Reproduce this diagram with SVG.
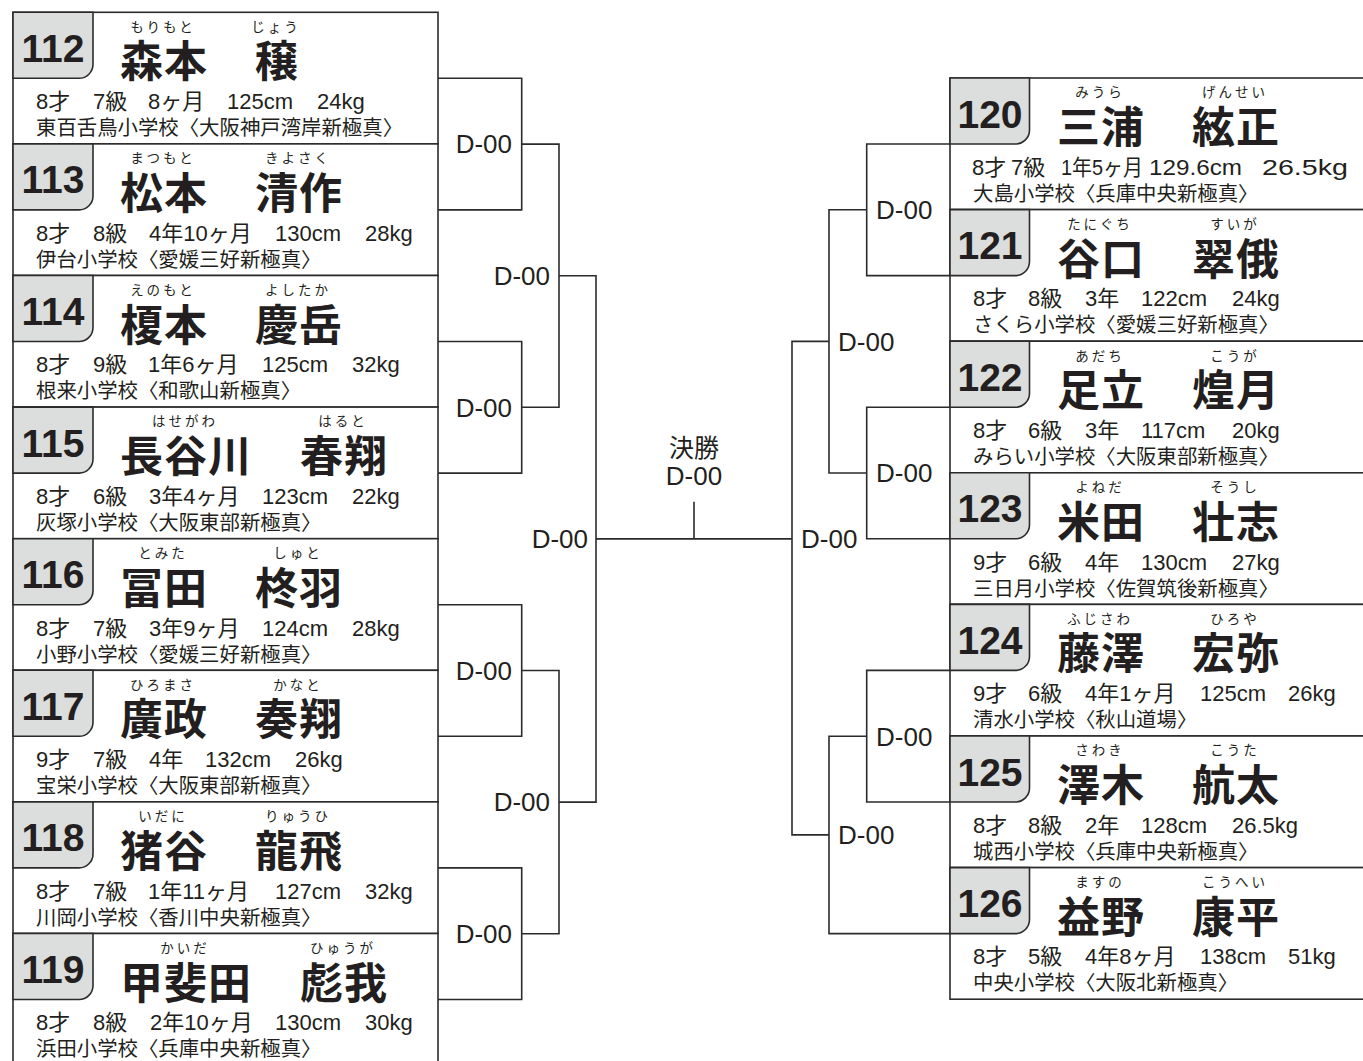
<svg xmlns="http://www.w3.org/2000/svg" width="1363" height="1061" viewBox="0 0 1363 1061">
<style>
.bg{fill:#fff}
.card{fill:#fff;stroke:#2b2b2b;stroke-width:1.6}
.tab{fill:#dcdddd;stroke:#2b2b2b;stroke-width:1.6}
.num{font-family:"Liberation Sans",Arial,sans-serif;font-weight:bold;font-size:39px;fill:#231f20;text-anchor:middle}
.name{font-family:"Noto Sans CJK JP",sans-serif;font-weight:bold;font-size:43px;letter-spacing:1px;fill:#231f20}
.kana{font-family:"Noto Sans CJK JP",sans-serif;font-size:13.5px;letter-spacing:3px;fill:#231f20;text-anchor:middle}
.info{font-family:"Liberation Sans","Noto Sans CJK JP",sans-serif;font-size:22px;fill:#231f20}
.club{font-family:"Noto Sans CJK JP",sans-serif;font-size:20.4px;fill:#231f20}
.wire{fill:none;stroke:#2b2b2b;stroke-width:1.6}
.lbl{font-family:"Liberation Sans",Arial,sans-serif;font-size:26px;fill:#231f20}
.end{text-anchor:end}
.fin{font-family:"Noto Sans CJK JP",sans-serif;font-size:25px;fill:#231f20;text-anchor:middle}
</style>
<rect class="bg" x="0" y="0" width="1363" height="1061"/>
<g id="connectors">
<path class="wire" d="M438,78.3H521.7V209.9H438M438,341.5H521.7V473.1H438M438,604.7H521.7V736.3H438M438,867.9H521.7V999.5H438"/>
<path class="wire" d="M521.7,144.1H559V407.3H521.7M521.7,670.5H559V933.7H521.7"/>
<path class="wire" d="M559,275.7H596V802.1H559"/>
<path class="wire" d="M596,538.9H792M694,501.7V538.9"/>
<path class="wire" d="M950,144H866.7V275.6H950M950,407.2H866.7V538.8H950M950,670.4H866.7V802H950"/>
<path class="wire" d="M866.7,209.8H829V473H866.7M866.7,736.2H829V933.6H950"/>
<path class="wire" d="M829,341.4H792V834.9H829"/>
<text class="lbl end" x="512" y="153.4">D-00</text>
<text class="lbl end" x="512" y="416.6">D-00</text>
<text class="lbl end" x="512" y="679.8">D-00</text>
<text class="lbl end" x="512" y="943">D-00</text>
<text class="lbl end" x="550" y="285">D-00</text>
<text class="lbl end" x="550" y="811.4">D-00</text>
<text class="lbl end" x="588" y="548.2">D-00</text>
<text class="fin" x="694" y="457">決勝</text>
<text class="lbl" x="694" y="485" text-anchor="middle">D-00</text>
<text class="lbl" x="876" y="219.1">D-00</text>
<text class="lbl" x="876" y="482.3">D-00</text>
<text class="lbl" x="876" y="745.5">D-00</text>
<text class="lbl" x="838" y="350.7">D-00</text>
<text class="lbl" x="838" y="844.2">D-00</text>
<text class="lbl" x="801" y="548.2">D-00</text>
</g>

<g id="p112">
<rect class="card" x="13" y="12.3" width="425" height="131.6"/>
<path class="tab" d="M13,12.3H93V64.3A14,14 0 0 1 79,78.3H13Z"/>
<text class="num" x="53" y="61.8">112</text>
<text class="kana" x="163" y="31.6">もりもと</text>
<text class="kana" x="276" y="31.6">じょう</text>
<text class="name" x="120" y="77.3">森本</text>
<text class="name" x="255" y="77.3">穣</text>
<text class="info" y="109.1"><tspan x="36">8才</tspan><tspan x="93">7級</tspan><tspan x="148">8ヶ月</tspan><tspan x="227">125cm</tspan><tspan x="317">24kg</tspan></text>
<text class="club" x="36" y="135.1">東百舌鳥小学校〈大阪神戸湾岸新極真〉</text>
</g>

<g id="p113">
<rect class="card" x="13" y="143.9" width="425" height="131.6"/>
<path class="tab" d="M13,143.9H93V195.9A14,14 0 0 1 79,209.9H13Z"/>
<text class="num" x="53" y="193.4">113</text>
<text class="kana" x="163" y="163.2">まつもと</text>
<text class="kana" x="298" y="163.2">きよさく</text>
<text class="name" x="120" y="208.9">松本</text>
<text class="name" x="255" y="208.9">清作</text>
<text class="info" y="240.7"><tspan x="36">8才</tspan><tspan x="93">8級</tspan><tspan x="149">4年10ヶ月</tspan><tspan x="275">130cm</tspan><tspan x="365">28kg</tspan></text>
<text class="club" x="36" y="266.7">伊台小学校〈愛媛三好新極真〉</text>
</g>

<g id="p114">
<rect class="card" x="13" y="275.5" width="425" height="131.6"/>
<path class="tab" d="M13,275.5H93V327.5A14,14 0 0 1 79,341.5H13Z"/>
<text class="num" x="53" y="325">114</text>
<text class="kana" x="163" y="294.8">えのもと</text>
<text class="kana" x="298" y="294.8">よしたか</text>
<text class="name" x="120" y="340.5">榎本</text>
<text class="name" x="255" y="340.5">慶岳</text>
<text class="info" y="372.3"><tspan x="36">8才</tspan><tspan x="93">9級</tspan><tspan x="148">1年6ヶ月</tspan><tspan x="262">125cm</tspan><tspan x="352">32kg</tspan></text>
<text class="club" x="36" y="398.3">根来小学校〈和歌山新極真〉</text>
</g>

<g id="p115">
<rect class="card" x="13" y="407.1" width="425" height="131.6"/>
<path class="tab" d="M13,407.1H93V459.1A14,14 0 0 1 79,473.1H13Z"/>
<text class="num" x="53" y="456.6">115</text>
<text class="kana" x="185" y="426.4">はせがわ</text>
<text class="kana" x="343" y="426.4">はると</text>
<text class="name" x="120" y="472.1">長谷川</text>
<text class="name" x="300" y="472.1">春翔</text>
<text class="info" y="503.9"><tspan x="36">8才</tspan><tspan x="93">6級</tspan><tspan x="149">3年4ヶ月</tspan><tspan x="262">123cm</tspan><tspan x="352">22kg</tspan></text>
<text class="club" x="36" y="529.9">灰塚小学校〈大阪東部新極真〉</text>
</g>

<g id="p116">
<rect class="card" x="13" y="538.7" width="425" height="131.6"/>
<path class="tab" d="M13,538.7H93V590.7A14,14 0 0 1 79,604.7H13Z"/>
<text class="num" x="53" y="588.2">116</text>
<text class="kana" x="163" y="558">とみた</text>
<text class="kana" x="298" y="558">しゅと</text>
<text class="name" x="120" y="603.7">冨田</text>
<text class="name" x="255" y="603.7">柊羽</text>
<text class="info" y="635.5"><tspan x="36">8才</tspan><tspan x="93">7級</tspan><tspan x="149">3年9ヶ月</tspan><tspan x="262">124cm</tspan><tspan x="352">28kg</tspan></text>
<text class="club" x="36" y="661.5">小野小学校〈愛媛三好新極真〉</text>
</g>

<g id="p117">
<rect class="card" x="13" y="670.3" width="425" height="131.6"/>
<path class="tab" d="M13,670.3H93V722.3A14,14 0 0 1 79,736.3H13Z"/>
<text class="num" x="53" y="719.8">117</text>
<text class="kana" x="163" y="689.6">ひろまさ</text>
<text class="kana" x="298" y="689.6">かなと</text>
<text class="name" x="120" y="735.3">廣政</text>
<text class="name" x="255" y="735.3">奏翔</text>
<text class="info" y="767.1"><tspan x="36">9才</tspan><tspan x="93">7級</tspan><tspan x="149">4年</tspan><tspan x="205">132cm</tspan><tspan x="295">26kg</tspan></text>
<text class="club" x="36" y="793.1">宝栄小学校〈大阪東部新極真〉</text>
</g>

<g id="p118">
<rect class="card" x="13" y="801.9" width="425" height="131.6"/>
<path class="tab" d="M13,801.9H93V853.9A14,14 0 0 1 79,867.9H13Z"/>
<text class="num" x="53" y="851.4">118</text>
<text class="kana" x="163" y="821.2">いだに</text>
<text class="kana" x="298" y="821.2">りゅうひ</text>
<text class="name" x="120" y="866.9">猪谷</text>
<text class="name" x="255" y="866.9">龍飛</text>
<text class="info" y="898.7"><tspan x="36">8才</tspan><tspan x="93">7級</tspan><tspan x="148">1年11ヶ月</tspan><tspan x="275">127cm</tspan><tspan x="365">32kg</tspan></text>
<text class="club" x="36" y="924.7">川岡小学校〈香川中央新極真〉</text>
</g>

<g id="p119">
<rect class="card" x="13" y="933.5" width="425" height="131.6"/>
<path class="tab" d="M13,933.5H93V985.5A14,14 0 0 1 79,999.5H13Z"/>
<text class="num" x="53" y="983">119</text>
<text class="kana" x="185" y="952.8">かいだ</text>
<text class="kana" x="343" y="952.8">ひゅうが</text>
<text class="name" x="120" y="998.5">甲斐田</text>
<text class="name" x="300" y="998.5">彪我</text>
<text class="info" y="1030.3"><tspan x="36">8才</tspan><tspan x="93">8級</tspan><tspan x="150">2年10ヶ月</tspan><tspan x="275">130cm</tspan><tspan x="365">30kg</tspan></text>
<text class="club" x="36" y="1056.3">浜田小学校〈兵庫中央新極真〉</text>
</g>

<g id="p120">
<rect class="card" x="950" y="78" width="420" height="131.6"/>
<path class="tab" d="M950,78H1029.5V130A14,14 0 0 1 1015.5,144H950Z"/>
<text class="num" x="990" y="127.5">120</text>
<text class="kana" x="1100" y="97.3">みうら</text>
<text class="kana" x="1235" y="97.3">げんせい</text>
<text class="name" x="1057" y="143">三浦</text>
<text class="name" x="1192" y="143">絃正</text>
<text class="info" y="174.8"><tspan x="972">8才</tspan><tspan x="1011">7級</tspan><tspan x="1061" textLength="82" lengthAdjust="spacingAndGlyphs">1年5ヶ月</tspan><tspan x="1149" textLength="93" lengthAdjust="spacingAndGlyphs">129.6cm</tspan><tspan x="1262" textLength="86" lengthAdjust="spacingAndGlyphs">26.5kg</tspan></text>
<text class="club" x="973" y="200.8">大島小学校〈兵庫中央新極真〉</text>
</g>

<g id="p121">
<rect class="card" x="950" y="209.6" width="420" height="131.6"/>
<path class="tab" d="M950,209.6H1029.5V261.6A14,14 0 0 1 1015.5,275.6H950Z"/>
<text class="num" x="990" y="259.1">121</text>
<text class="kana" x="1100" y="228.9">たにぐち</text>
<text class="kana" x="1235" y="228.9">すいが</text>
<text class="name" x="1057" y="274.6">谷口</text>
<text class="name" x="1192" y="274.6">翠俄</text>
<text class="info" y="306.4"><tspan x="973">8才</tspan><tspan x="1028">8級</tspan><tspan x="1085">3年</tspan><tspan x="1141">122cm</tspan><tspan x="1232">24kg</tspan></text>
<text class="club" x="973" y="332.4">さくら小学校〈愛媛三好新極真〉</text>
</g>

<g id="p122">
<rect class="card" x="950" y="341.2" width="420" height="131.6"/>
<path class="tab" d="M950,341.2H1029.5V393.2A14,14 0 0 1 1015.5,407.2H950Z"/>
<text class="num" x="990" y="390.7">122</text>
<text class="kana" x="1100" y="360.5">あだち</text>
<text class="kana" x="1235" y="360.5">こうが</text>
<text class="name" x="1057" y="406.2">足立</text>
<text class="name" x="1192" y="406.2">煌月</text>
<text class="info" y="438"><tspan x="973">8才</tspan><tspan x="1028">6級</tspan><tspan x="1085">3年</tspan><tspan x="1141">117cm</tspan><tspan x="1232">20kg</tspan></text>
<text class="club" x="973" y="464">みらい小学校〈大阪東部新極真〉</text>
</g>

<g id="p123">
<rect class="card" x="950" y="472.8" width="420" height="131.6"/>
<path class="tab" d="M950,472.8H1029.5V524.8A14,14 0 0 1 1015.5,538.8H950Z"/>
<text class="num" x="990" y="522.3">123</text>
<text class="kana" x="1100" y="492.1">よねだ</text>
<text class="kana" x="1235" y="492.1">そうし</text>
<text class="name" x="1057" y="537.8">米田</text>
<text class="name" x="1192" y="537.8">壮志</text>
<text class="info" y="569.6"><tspan x="973">9才</tspan><tspan x="1028">6級</tspan><tspan x="1085">4年</tspan><tspan x="1141">130cm</tspan><tspan x="1232">27kg</tspan></text>
<text class="club" x="973" y="595.6">三日月小学校〈佐賀筑後新極真〉</text>
</g>

<g id="p124">
<rect class="card" x="950" y="604.4" width="420" height="131.6"/>
<path class="tab" d="M950,604.4H1029.5V656.4A14,14 0 0 1 1015.5,670.4H950Z"/>
<text class="num" x="990" y="653.9">124</text>
<text class="kana" x="1100" y="623.7">ふじさわ</text>
<text class="kana" x="1235" y="623.7">ひろや</text>
<text class="name" x="1057" y="669.4">藤澤</text>
<text class="name" x="1192" y="669.4">宏弥</text>
<text class="info" y="701.2"><tspan x="973">9才</tspan><tspan x="1028">6級</tspan><tspan x="1085">4年1ヶ月</tspan><tspan x="1200">125cm</tspan><tspan x="1288">26kg</tspan></text>
<text class="club" x="973" y="727.2">清水小学校〈秋山道場〉</text>
</g>

<g id="p125">
<rect class="card" x="950" y="736" width="420" height="131.6"/>
<path class="tab" d="M950,736H1029.5V788A14,14 0 0 1 1015.5,802H950Z"/>
<text class="num" x="990" y="785.5">125</text>
<text class="kana" x="1100" y="755.3">さわき</text>
<text class="kana" x="1235" y="755.3">こうた</text>
<text class="name" x="1057" y="801">澤木</text>
<text class="name" x="1192" y="801">航太</text>
<text class="info" y="832.8"><tspan x="973">8才</tspan><tspan x="1028">8級</tspan><tspan x="1085">2年</tspan><tspan x="1141">128cm</tspan><tspan x="1232">26.5kg</tspan></text>
<text class="club" x="973" y="858.8">城西小学校〈兵庫中央新極真〉</text>
</g>

<g id="p126">
<rect class="card" x="950" y="867.6" width="420" height="131.6"/>
<path class="tab" d="M950,867.6H1029.5V919.6A14,14 0 0 1 1015.5,933.6H950Z"/>
<text class="num" x="990" y="917.1">126</text>
<text class="kana" x="1100" y="886.9">ますの</text>
<text class="kana" x="1235" y="886.9">こうへい</text>
<text class="name" x="1057" y="932.6">益野</text>
<text class="name" x="1192" y="932.6">康平</text>
<text class="info" y="964.4"><tspan x="973">8才</tspan><tspan x="1028">5級</tspan><tspan x="1085">4年8ヶ月</tspan><tspan x="1200">138cm</tspan><tspan x="1288">51kg</tspan></text>
<text class="club" x="973" y="990.4">中央小学校〈大阪北新極真〉</text>
</g>
</svg>
